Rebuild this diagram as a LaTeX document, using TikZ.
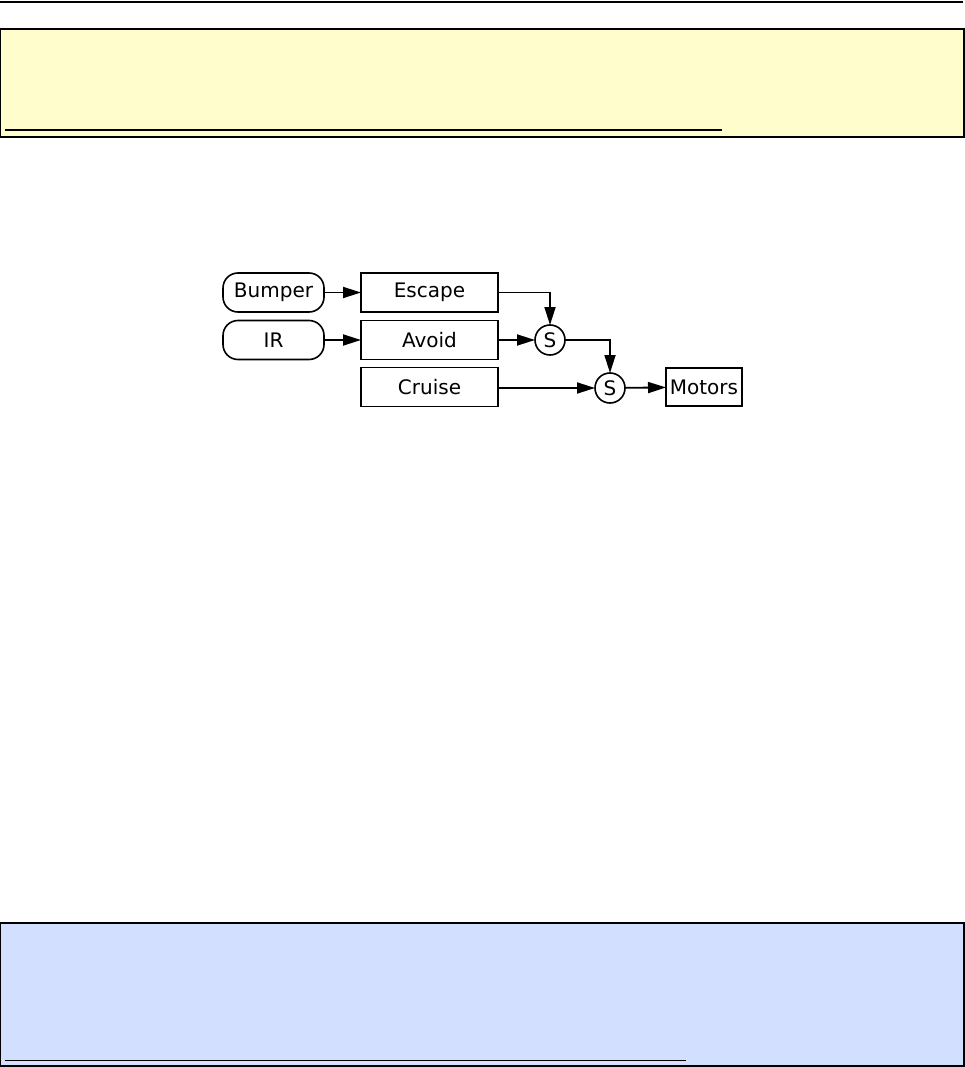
\documentclass[tikz,border=0pt]{standalone}
\usepackage{fontspec}
\setmainfont{DejaVu Sans}
\usetikzlibrary{arrows.meta}

\definecolor{noteyellow}{HTML}{FFFDCC}
\definecolor{noteblue}{HTML}{D3DFFE}

\tikzset{
  sensor/.style={draw, line width=1.6pt, rounded corners=15pt, minimum width=101pt, minimum height=39pt, inner sep=0pt, outer sep=0pt},
  behave/.style={draw, line width=1.6pt, minimum width=137pt, minimum height=39pt, inner sep=0pt, outer sep=0pt},
  supp/.style={draw, circle, line width=1.6pt, minimum size=30pt, inner sep=0pt, outer sep=0pt},
  act/.style={draw, line width=1.6pt, minimum width=76pt, minimum height=38pt, inner sep=0pt, outer sep=0pt},
  wire/.style={line width=1.8pt, -{Triangle[length=18pt,width=11pt]}}
}

\begin{document}
\begin{tikzpicture}[x=1pt,y=1pt,font=\fontsize{20}{23}\selectfont]
\useasboundingbox (0,0) rectangle (965,-1067);
\draw[line width=1.2pt] (0,-2) -- (963,-2);
% upper note
\fill[noteyellow] (0.6,-29) rectangle (964,-137);
\draw[line width=1.2pt] (0.6,-29) rectangle (964,-137);
\draw[line width=2.4pt] (5,-130) -- (722,-130);
% lower note
\fill[noteblue] (0.6,-923) rectangle (964,-1066);
\draw[line width=1.2pt] (0.6,-923) rectangle (964,-1066);
\draw[line width=1pt] (5,-1060) -- (686,-1060);

\node[sensor] (bumper) at (273.5,-292.5) {Bumper};
\node[sensor] (ir) at (273.5,-340) {IR};
\node[behave] (escape) at (429.5,-292.5) {Escape};
\node[behave] (avoid) at (429.5,-340) {Avoid};
\node[behave] (cruise) at (429.5,-387) {Cruise};
\node[supp] (s1) at (550,-340) {S};
\node[supp] (s2) at (610,-388) {S};
\node[act] (motors) at (704,-387) {Motors};

\draw[wire] (bumper) -- (escape);
\draw[wire] (ir) -- (avoid);
\draw[wire] (escape.east) -| (s1.north);
\draw[wire] (avoid) -- (s1);
\draw[wire] (s1.east) -| (s2.north);
\draw[wire] (cruise.east |- s2) -- (s2);
\draw[wire] (s2) -- (motors);
\end{tikzpicture}
\end{document}
